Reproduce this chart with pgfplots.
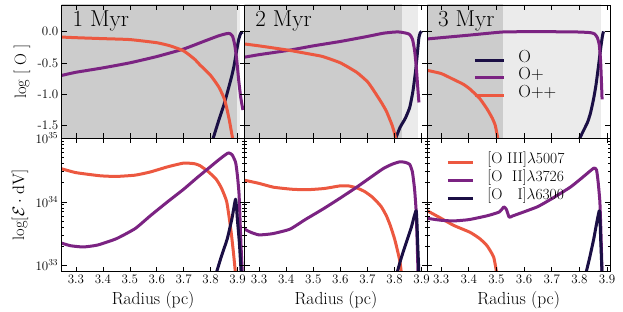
\RequirePackage{fix-cm}
\documentclass[border=0pt]{standalone}
\usepackage{pgfplots}
\pgfplotsset{compat=1.18}
\definecolor{cO}{HTML}{1B0F45}
\definecolor{cOp}{HTML}{7B2382}
\definecolor{cOpp}{HTML}{EC5840}
\definecolor{dgray}{HTML}{CCCCCC}
\definecolor{lgray}{HTML}{EBEBEB}
\tikzset{ttl/.style={anchor=base west, font=\fontsize{23}{23}\selectfont}}
\pgfplotsset{
  panel/.style={scale only axis, width=182.8pt, height=133.3pt, anchor=north west,
    axis on top, axis line style={line width=0.9pt},
    tick style={black, line width=0.6pt}, major tick length=5pt, minor tick length=2.5pt,
    tick align=inside,
    xtick={3.3,3.4,3.5,3.6,3.7,3.8,3.9},
    xticklabel style={/pgf/number format/fixed, /pgf/number format/precision=1, /pgf/number format/fixed zerofill},
    tick label style={font=\fontsize{13}{13}\selectfont},
    every axis plot/.append style={line width=3pt, line join=round, smooth, tension=0.3},
  },
  shade/.style={draw=none, forget plot, sharp plot},
  toprow/.style={ymin=-1.70, ymax=0.42, ytick={0,-0.5,-1,-1.5},
    yticklabels={\mbox{0.0},\mbox{-0.5},\mbox{-1.0},\mbox{-1.5}}, xticklabels={}},
  botrow/.style={ymin=8e32, ymax=1e35, ytick={1e33,1e34,1e35},
    xlabel={Radius (pc)}, xlabel style={font=\fontsize{17.5}{17.5}\selectfont, at={(axis description cs:0.5,-0.25)}, anchor=base}},
  noy/.style={yticklabels={}},
}
\begin{document}
\begin{tikzpicture}
\useasboundingbox (0,0) rectangle (623pt,312pt);
% ---------- top row ----------
\begin{axis}[panel, toprow, at={(61.7pt,307pt)}, xmin=3.247, xmax=3.926,
  ylabel={log [ O ]}, ylabel style={font=\fontsize{16.5}{16.5}\selectfont, at={(axis description cs:-0.217,0.5)}, anchor=center}]
\addplot[shade, fill=lgray] coordinates {(3.2,-2) (3.908,-2) (3.908,1) (3.2,1)};
\addplot[shade, fill=dgray] coordinates {(3.2,-2) (3.899,-2) (3.899,1) (3.2,1)};
\addplot[cO] coordinates {(3.806,-1.75) (3.83,-1.42) (3.85,-1.16) (3.865,-0.93) (3.878,-0.72) (3.887,-0.55) (3.897,-0.30) (3.905,-0.12) (3.912,-0.03) (3.92,-0.01)};
\addplot[cOp] coordinates {(3.247,-0.70) (3.30,-0.65) (3.40,-0.58) (3.50,-0.50) (3.60,-0.40) (3.70,-0.28) (3.78,-0.15) (3.83,-0.07) (3.86,-0.035) (3.872,-0.035) (3.882,-0.08) (3.89,-0.22) (3.897,-0.45) (3.905,-0.80) (3.912,-1.05) (3.92,-1.25)};
\addplot[cOpp] coordinates {(3.247,-0.09) (3.30,-0.10) (3.40,-0.115) (3.50,-0.13) (3.60,-0.18) (3.65,-0.23) (3.70,-0.31) (3.74,-0.44) (3.76,-0.53) (3.80,-0.70) (3.83,-0.88) (3.85,-1.06) (3.86,-1.22) (3.87,-1.42) (3.88,-1.66) (3.884,-1.75)};
\node[ttl] at (rel axis cs:0.04,0.835) {1 Myr};
\end{axis}
\begin{axis}[panel, toprow, noy, at={(244.5pt,307pt)}, xmin=3.246, xmax=3.921]
\addplot[shade, fill=lgray] coordinates {(3.2,-2) (3.886,-2) (3.886,1) (3.2,1)};
\addplot[shade, fill=dgray] coordinates {(3.2,-2) (3.826,-2) (3.826,1) (3.2,1)};
\addplot[cO] coordinates {(3.80,-1.75) (3.82,-1.53) (3.84,-1.38) (3.856,-1.21) (3.868,-0.95) (3.878,-0.62) (3.885,-0.32) (3.89,-0.10) (3.895,-0.02) (3.90,0.0)};
\addplot[cOp] coordinates {(3.246,-0.41) (3.30,-0.37) (3.41,-0.30) (3.50,-0.23) (3.60,-0.16) (3.70,-0.08) (3.757,-0.03) (3.80,-0.01) (3.82,-0.01) (3.845,-0.03) (3.856,-0.05) (3.866,-0.12) (3.874,-0.30) (3.88,-0.55) (3.885,-0.85) (3.89,-1.13)};
\addplot[cOpp] coordinates {(3.246,-0.20) (3.30,-0.23) (3.41,-0.30) (3.50,-0.37) (3.535,-0.40) (3.60,-0.50) (3.66,-0.65) (3.70,-0.80) (3.72,-0.92) (3.75,-1.12) (3.77,-1.27) (3.79,-1.48) (3.80,-1.62) (3.806,-1.75)};
\node[ttl] at (rel axis cs:0.04,0.835) {2 Myr};
\end{axis}
\begin{axis}[panel, toprow, noy, at={(427.3pt,307pt)}, xmin=3.25, xmax=3.911,
  legend style={draw=none, fill=none, at={(rel axis cs:0.235,0.668)}, anchor=north west,
    font=\fontsize{17.5}{17.5}\selectfont, nodes={inner sep=0pt, text height=11pt, text depth=6.5pt},
    /tikz/every odd column/.append style={column sep=13pt}},
  legend cell align=left,
  legend image code/.code={\draw[#1, sharp plot] (0pt,0pt) -- (29pt,0pt);}]
\addplot[shade, fill=lgray] coordinates {(3.2,-2) (3.879,-2) (3.879,1) (3.2,1)};
\addplot[shade, fill=dgray] coordinates {(3.2,-2) (3.522,-2) (3.522,1) (3.2,1)};
\addplot[cO] coordinates {(3.796,-1.75) (3.81,-1.62) (3.829,-1.45) (3.84,-1.30) (3.851,-1.08) (3.86,-0.85) (3.869,-0.55) (3.876,-0.30) (3.883,-0.08) (3.887,0.0)};
\addlegendentry{O}
\addplot[cOp] coordinates {(3.25,-0.12) (3.30,-0.10) (3.40,-0.06) (3.52,-0.01) (3.60,-0.005) (3.70,-0.005) (3.80,-0.01) (3.84,-0.02) (3.855,-0.04) (3.865,-0.10) (3.872,-0.22) (3.877,-0.50) (3.882,-1.08)};
\addlegendentry{O+}
\addplot[cOpp] coordinates {(3.25,-0.62) (3.30,-0.67) (3.343,-0.76) (3.38,-0.84) (3.405,-0.92) (3.44,-1.07) (3.467,-1.24) (3.485,-1.38) (3.496,-1.50) (3.507,-1.75)};
\addlegendentry{O++}
\node[ttl] at (rel axis cs:0.04,0.835) {3 Myr};
\end{axis}
% ---------- bottom row ----------
\begin{axis}[ymode=log, panel, botrow, at={(61.7pt,173.7pt)}, xmin=3.247, xmax=3.926,
  ylabel={log[$\mathcal{E}\cdot\mathrm{dV}$]}, ylabel style={font=\fontsize{16.5}{16.5}\selectfont, at={(axis description cs:-0.228,0.5)}, anchor=center}]
\addplot[cOpp] coordinates {(3.247,3.31e34) (3.30,2.88e34) (3.39,2.57e34) (3.45,2.51e34) (3.52,2.63e34) (3.576,2.95e34) (3.64,3.55e34) (3.70,4.07e34) (3.74,3.98e34) (3.76,3.72e34) (3.79,3.02e34) (3.82,2.29e34) (3.84,1.66e34) (3.86,1.00e34) (3.875,3.72e33) (3.885,1.58e33) (3.893,7.08e32)};
\addplot[cOp] coordinates {(3.247,2.24e33) (3.28,2.04e33) (3.327,1.95e33) (3.38,2.09e33) (3.45,2.63e33) (3.52,3.80e33) (3.576,6.03e33) (3.64,1.00e34) (3.70,1.58e34) (3.75,2.40e34) (3.79,3.31e34) (3.83,4.57e34) (3.855,5.50e34) (3.867,5.89e34) (3.88,5.50e34) (3.893,4.17e34) (3.90,2.51e34) (3.906,1.26e34) (3.912,2.63e33) (3.918,7.08e32)};
\addplot[cO] coordinates {(3.819,7.08e32) (3.84,1.38e33) (3.862,2.63e33) (3.88,5.62e33) (3.893,1.10e34) (3.90,5.01e33) (3.907,2.24e33) (3.914,7.08e32)};
\end{axis}
\begin{axis}[ymode=log, panel, botrow, noy, at={(244.5pt,173.7pt)}, xmin=3.246, xmax=3.921]
\addplot[cOpp] coordinates {(3.246,2.19e34) (3.30,1.95e34) (3.353,1.70e34) (3.42,1.58e34) (3.475,1.55e34) (3.54,1.62e34) (3.598,1.78e34) (3.63,1.78e34) (3.66,1.66e34) (3.69,1.45e34) (3.72,1.17e34) (3.75,8.51e33) (3.77,6.03e33) (3.785,4.17e33) (3.80,2.63e33) (3.81,1.78e33) (3.82,1.15e33) (3.826,7.08e32)};
\addplot[cOp] coordinates {(3.246,3.72e33) (3.27,3.31e33) (3.30,3.02e33) (3.35,3.16e33) (3.414,3.72e33) (3.47,5.25e33) (3.537,7.76e33) (3.60,1.15e34) (3.66,1.70e34) (3.71,2.40e34) (3.757,3.31e34) (3.79,3.89e34) (3.82,4.27e34) (3.84,4.17e34) (3.856,3.89e34) (3.866,2.95e34) (3.874,1.58e34) (3.88,6.92e33) (3.884,2.00e33) (3.887,7.08e32)};
\addplot[cO] coordinates {(3.807,7.08e32) (3.825,1.32e33) (3.844,2.34e33) (3.862,3.98e33) (3.88,7.24e33) (3.885,2.51e33) (3.89,7.08e32)};
\end{axis}
\begin{axis}[ymode=log, panel, botrow, noy, at={(427.3pt,173.7pt)}, xmin=3.25, xmax=3.911,
  legend style={draw=none, fill=none, at={(rel axis cs:0.087,0.905)}, anchor=north west,
    font=\fontsize{15.5}{15.5}\selectfont, nodes={inner sep=0pt, text height=10pt, text depth=8pt},
    /tikz/every odd column/.append style={column sep=13pt}},
  legend cell align=left,
  legend image code/.code={\draw[#1, sharp plot] (0pt,0pt) -- (25pt,0pt);}]
\addplot[cOpp] coordinates {(3.25,7.24e33) (3.30,5.50e33) (3.345,4.27e33) (3.405,3.31e33) (3.44,2.63e33) (3.466,2.04e33) (3.49,1.35e33) (3.502,7.08e32)};
\addlegendentry{{[O III]}$\lambda$5007}
\addplot[cOp] coordinates {(3.25,5.50e33) (3.30,5.13e33) (3.345,5.01e33) (3.40,5.25e33) (3.466,6.03e33) (3.51,6.92e33) (3.527,8.32e33) (3.536,7.59e33) (3.546,5.75e33) (3.56,6.03e33) (3.647,8.32e33) (3.70,1.12e34) (3.767,1.70e34) (3.81,2.40e34) (3.852,3.39e34) (3.862,3.16e34) (3.868,2.00e34) (3.874,1.00e34) (3.878,3.16e33) (3.882,7.08e32)};
\addlegendentry{{[O \phantom{I}II]}$\lambda$3726}
\addplot[cO] coordinates {(3.822,7.08e32) (3.837,1.32e33) (3.852,2.63e33) (3.872,7.24e33) (3.877,2.51e33) (3.882,7.08e32)};
\addlegendentry{{[O \phantom{II}I]}$\lambda$6300}
\end{axis}
\end{tikzpicture}
\end{document}
